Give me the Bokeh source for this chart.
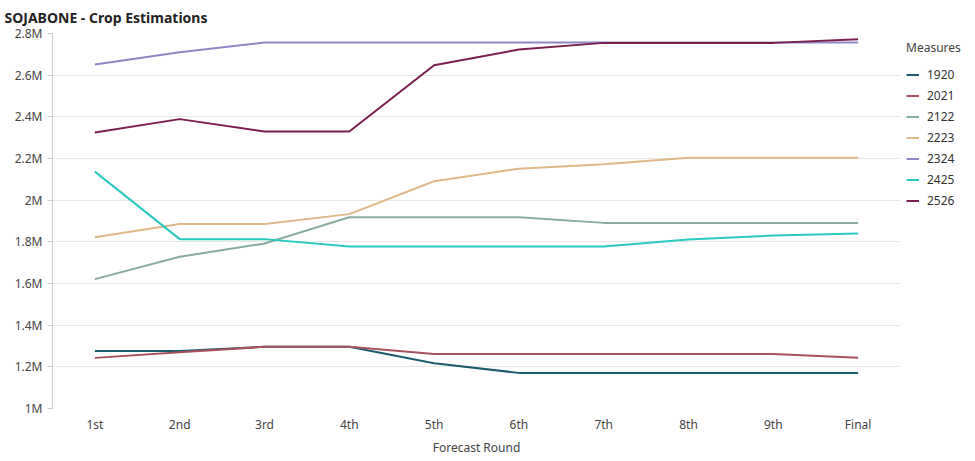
from bokeh.plotting import figure
from bokeh.models import FactorRange, Range1d, FixedTicker, Legend, LegendItem, ColumnDataSource
from bokeh.embed import file_html
from bokeh.resources import INLINE

# ---- data (values in millions) ----
rounds = ["1st", "2nd", "3rd", "4th", "5th", "6th", "7th", "8th", "9th", "Final"]
s1920 = [1.276, 1.276, 1.296, 1.296, 1.217, 1.171, 1.171, 1.171, 1.171, 1.171]
s2021 = [1.243, 1.270, 1.296, 1.296, 1.262, 1.262, 1.262, 1.262, 1.262, 1.244]
s2122 = [1.621, 1.728, 1.792, 1.918, 1.918, 1.918, 1.891, 1.891, 1.891, 1.891]
s2223 = [1.822, 1.886, 1.886, 1.933, 2.091, 2.151, 2.172, 2.204, 2.204, 2.204]
s2324 = [2.651, 2.710, 2.757, 2.757, 2.757, 2.757, 2.757, 2.757, 2.757, 2.757]
s2425 = [2.137, 1.813, 1.813, 1.778, 1.778, 1.778, 1.778, 1.811, 1.830, 1.840]
s2526 = [2.325, 2.389, 2.330, 2.330, 2.648, 2.723, 2.755, 2.755, 2.755, 2.772]
series_names = ["1920", "2021", "2122", "2223", "2324", "2425", "2526"]
series_vals = [s1920, s2021, s2122, s2223, s2324, s2425, s2526]
colors = ["#1d5c6e", "#a8525d", "#8aab9f", "#dfb88a", "#8f87c6", "#2ac9c0", "#7b1f4f"]
tick_vals = [1000000, 1200000, 1400000, 1600000, 1800000, 2000000, 2200000, 2400000, 2600000, 2800000]
tick_labels = ["1M", "1.2M", "1.4M", "1.6M", "1.8M", "2M", "2.2M", "2.4M", "2.6M", "2.8M"]

FONT = "Noto Sans"

p = figure(
    x_range=FactorRange(*rounds, range_padding=0),
    y_range=Range1d(1000000, 2800000),
    frame_width=848, frame_height=375,
    min_border_left=52, min_border_top=33, min_border_bottom=0, min_border_right=0,
    output_backend="svg", toolbar_location=None,
    title="SOJABONE - Crop Estimations",
)
p.title.text_font = FONT
p.title.text_font_size = "14px"
p.title.text_font_style = "bold"
p.title.text_color = "#222222"
p.title.offset = -48
p.title.standoff = 10
p.title.vertical_align = "top"

p.outline_line_color = None
p.background_fill_color = "white"
p.border_fill_color = "white"

p.xgrid.grid_line_color = None
p.ygrid.grid_line_color = "#e6e6e6"
p.ygrid.ticker = FixedTicker(ticks=tick_vals)

p.yaxis.ticker = FixedTicker(ticks=tick_vals)
p.yaxis.major_label_overrides = {v: l for v, l in zip(tick_vals, tick_labels)}
p.yaxis.axis_line_color = "#cccccc"
p.yaxis.major_tick_line_color = "#cccccc"
p.yaxis.major_tick_out = 5
p.yaxis.major_tick_in = 0
p.yaxis.minor_tick_line_color = None
p.yaxis.major_label_text_font = FONT
p.yaxis.major_label_text_font_size = "12px"
p.yaxis.major_label_text_color = "#444444"
p.yaxis.major_label_standoff = 5

p.xaxis.axis_line_color = None
p.xaxis.major_tick_line_color = None
p.xaxis.minor_tick_line_color = None
p.xaxis.major_label_text_font = FONT
p.xaxis.major_label_text_font_size = "12px"
p.xaxis.major_label_text_color = "#444444"
p.xaxis.major_label_standoff = 1
p.xaxis.axis_label = "Forecast Round"
p.xaxis.axis_label_text_font = FONT
p.xaxis.axis_label_text_font_size = "12px"
p.xaxis.axis_label_text_font_style = "normal"
p.xaxis.axis_label_text_color = "#444444"
p.xaxis.axis_label_standoff = 3

items = []
for name, vals, col in zip(series_names, series_vals, colors):
    src = ColumnDataSource(dict(x=rounds, y=[v * 1e6 for v in vals]))
    r = p.line("x", "y", source=src, line_color=col, line_width=2)
    items.append(LegendItem(label=name, renderers=[r]))

legend = Legend(items=items, title="Measures", location="top_left")
legend.title_text_font = FONT
legend.title_text_font_size = "12px"
legend.title_text_font_style = "normal"
legend.title_text_color = "#444444"
legend.title_standoff = 8
legend.label_text_font = FONT
legend.label_text_font_size = "12px"
legend.label_text_color = "#333333"
legend.glyph_width = 13
legend.glyph_height = 21
legend.label_height = 21
legend.label_standoff = 8
legend.spacing = 0
legend.padding = 3
legend.margin = 6
legend.border_line_color = None
legend.background_fill_color = None
p.add_layout(legend, "right")

open("out.html", "w").write(file_html(p, INLINE))
